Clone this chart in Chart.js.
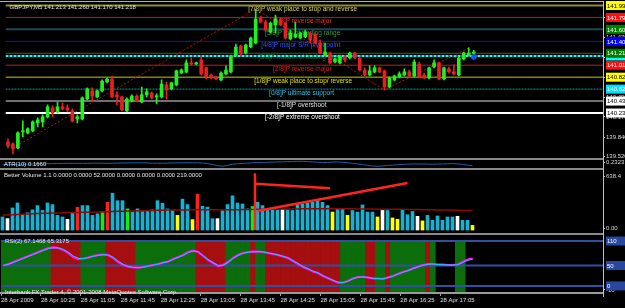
<!DOCTYPE html>
<html>
<head>
<meta charset="utf-8">
<title>GBPJPY,M5</title>
<script src="https://cdn.jsdelivr.net/npm/chart.js@4.4.1/dist/chart.umd.min.js"></script>
<style>
    html, body { margin: 0; padding: 0; background: #000; }
    #wrap { position: relative; width: 625px; height: 308px; overflow: hidden; background: #000; }
    #wrap canvas { position: absolute; left: 0; }
    .rule { position: absolute; left: 0; width: 603px; background: #8a8a8a; }
</style>
</head>
<body>
<div id="wrap">
    <canvas id="priceChart" width="625" height="168" style="top:-5px"></canvas>
    <canvas id="atrChart" width="625" height="19" style="top:154px"></canvas>
    <canvas id="volumeChart" width="625" height="74" style="top:164px"></canvas>
    <canvas id="rsiChart" width="625" height="79" style="top:229px"></canvas>
    <div class="rule" style="top:1px;height:1px;background:#b0b0b0"></div>
    <div class="rule" style="top:158px;height:2px"></div>
    <div class="rule" style="top:168px;height:2px"></div>
    <div class="rule" style="top:233px;height:2px"></div>
    <div style="position:absolute;left:603px;top:1px;width:1px;height:296px;background:#c0c0c0"></div>
</div>
<script>
// GBPJPY M5, 28 Apr 2009 - one value per 5 minute bar
const opens = [
    139.762, 139.729, 139.664, 139.925, 139.909, 139.941, 140.072, 140.089, 140.170, 140.317,
    140.252, 140.334, 140.317, 140.268, 140.138, 140.138, 140.464, 140.595, 140.497, 140.595,
    140.742, 140.791, 140.530, 140.497, 140.268, 140.432, 140.513, 140.415, 140.530, 140.562,
    140.497, 140.497, 140.693, 140.628, 140.693, 140.889, 140.906, 141.053, 141.036, 141.102,
    140.971, 140.856, 140.824, 140.775, 140.873, 140.906, 141.183, 141.330, 141.216, 141.314,
    141.379, 141.788, 141.723, 141.559, 141.673, 141.755, 141.706, 141.445, 141.477, 141.461,
    141.477, 141.543, 141.526, 141.379, 141.183, 141.216, 141.069, 141.053, 141.151, 141.134,
    141.216, 141.134, 140.938, 140.856, 140.906, 140.971, 140.922, 140.660, 140.775, 140.824,
    140.856, 140.906, 140.840, 141.036, 140.856, 140.807, 140.987, 141.053, 140.791, 140.955,
    140.906, 140.856, 141.118, 141.183, 141.213
];
const highs = [
    139.811, 139.745, 139.925, 140.105, 139.990, 140.105, 140.154, 140.203, 140.366, 140.350,
    140.415, 140.399, 140.366, 140.301, 140.203, 140.497, 140.644, 140.644, 140.611, 140.775,
    140.807, 140.840, 140.579, 140.513, 140.481, 140.530, 140.530, 140.660, 140.628, 140.579,
    140.546, 140.775, 140.742, 140.742, 140.938, 140.955, 141.102, 141.134, 141.069, 141.167,
    140.987, 140.873, 140.840, 140.906, 141.004, 141.183, 141.363, 141.347, 141.363, 141.477,
    141.935, 141.821, 141.755, 141.723, 141.837, 141.788, 141.723, 141.592, 141.723, 141.559,
    141.592, 141.559, 141.543, 141.428, 141.379, 141.232, 141.134, 141.183, 141.167, 141.232,
    141.232, 141.151, 140.971, 141.004, 141.004, 140.987, 140.938, 140.824, 140.856, 140.906,
    140.955, 140.938, 141.102, 141.069, 140.889, 140.987, 141.102, 141.069, 140.987, 140.987,
    141.020, 141.151, 141.232, 141.298, 141.260
];
const lows = [
    139.664, 139.566, 139.647, 139.843, 139.892, 139.925, 140.007, 140.007, 140.154, 140.170,
    140.236, 140.285, 140.252, 140.089, 140.072, 140.121, 140.448, 140.432, 140.481, 140.579,
    140.726, 140.481, 140.366, 140.268, 140.252, 140.415, 140.415, 140.399, 140.497, 140.464,
    140.383, 140.481, 140.464, 140.611, 140.677, 140.873, 140.889, 141.020, 141.020, 140.856,
    140.791, 140.791, 140.775, 140.758, 140.856, 140.889, 141.167, 141.167, 141.200, 141.298,
    141.363, 141.706, 141.559, 141.543, 141.543, 141.657, 141.445, 141.428, 141.461, 141.445,
    141.461, 141.379, 141.363, 141.200, 141.167, 141.036, 141.053, 141.036, 141.069, 141.118,
    141.118, 140.922, 140.840, 140.840, 140.889, 140.889, 140.611, 140.644, 140.758, 140.807,
    140.840, 140.824, 140.824, 140.807, 140.791, 140.791, 140.971, 140.775, 140.775, 140.889,
    140.856, 140.840, 141.102, 141.167, 141.170
];
const closes = [
    139.696, 139.647, 139.909, 139.941, 139.974, 140.089, 140.121, 140.170, 140.334, 140.236,
    140.334, 140.301, 140.285, 140.105, 140.170, 140.481, 140.628, 140.513, 140.595, 140.758,
    140.791, 140.497, 140.497, 140.285, 140.464, 140.513, 140.432, 140.530, 140.579, 140.481,
    140.513, 140.709, 140.611, 140.726, 140.922, 140.938, 141.053, 141.036, 141.053, 140.873,
    140.824, 140.807, 140.791, 140.889, 140.938, 141.167, 141.314, 141.200, 141.347, 141.461,
    141.772, 141.723, 141.592, 141.706, 141.772, 141.673, 141.461, 141.543, 141.526, 141.543,
    141.559, 141.428, 141.379, 141.216, 141.232, 141.053, 141.118, 141.151, 141.102, 141.216,
    141.134, 140.938, 140.856, 140.922, 140.971, 140.906, 140.660, 140.807, 140.840, 140.873,
    140.906, 140.840, 141.069, 140.824, 140.807, 140.971, 141.053, 140.791, 140.971, 140.906,
    140.873, 141.134, 141.216, 141.216, 141.218
];

const timeLabels = ['28 Apr 2009', '28 Apr 10:25', '28 Apr 11:05', '28 Apr 11:45', '28 Apr 12:25', '28 Apr 13:05',
    '28 Apr 13:45', '28 Apr 14:25', '28 Apr 15:05', '28 Apr 15:45', '28 Apr 16:25', '28 Apr 17:05'];
const timeTickBars = [0, 8, 16, 24, 32, 40, 48, 56, 64, 72, 80, 88];
const priceTicks = [141.800, 141.470, 141.140, 140.810, 140.490, 140.170, 139.840, 139.520];

// Murrey math levels
const murreyLevels = [141.992, 141.797, 141.602, 141.406, 141.211, 141.016, 140.820, 140.625, 140.430, 140.234];
const murreyNames = [
    '[7/8]P weak place to stop and reverse', '[6/8]P reverse major', '[5/8]P top of trading range',
    '[4/8]P major S/R pivot point', '[3/8]P bottom of trading range', '[2/8]P reverse major',
    '[1/8]P weak place to stop/ reverse', '[0/8]P ultimate support', '[-1/8]P overshoot', '[-2/8]P extreme overshoot'
];
const bidLevel = 141.168;
const zigzagBars = [1, 50, 76, 93];
const zigzagPrices = [139.664, 141.935, 140.611, 141.298];
const markerBar = [94];
const markerPrice = [141.151];

const atrValues = [
    0.176, 0.178, 0.179, 0.181, 0.182, 0.184, 0.186, 0.187, 0.188, 0.189,
    0.190, 0.191, 0.192, 0.193, 0.193, 0.194, 0.193, 0.193, 0.194, 0.195,
    0.194, 0.193, 0.194, 0.196, 0.197, 0.198, 0.199, 0.200, 0.199, 0.197,
    0.195, 0.193, 0.194, 0.196, 0.198, 0.199, 0.200, 0.201, 0.200, 0.199,
    0.196, 0.190, 0.180, 0.165, 0.159, 0.170, 0.182, 0.188, 0.192, 0.196,
    0.200, 0.203, 0.204, 0.205, 0.207, 0.209, 0.211, 0.213, 0.215, 0.216,
    0.217, 0.214, 0.210, 0.206, 0.202, 0.204, 0.207, 0.209, 0.206, 0.200,
    0.193, 0.186, 0.178, 0.170, 0.162, 0.159, 0.163, 0.168, 0.172, 0.176,
    0.180, 0.184, 0.186, 0.186, 0.185, 0.184, 0.183, 0.184, 0.186, 0.188,
    0.190, 0.187, 0.180, 0.172, 0.166
];

const volumes = [
    147, 128, 249, 304, 165, 194, 227, 275, 220, 304,
    286, 165, 147, 121, 191, 257, 275, 275, 165, 183,
    209, 312, 414, 330, 330, 238, 202, 238, 209, 209,
    227, 330, 301, 238, 220, 165, 348, 286, 117, 403,
    268, 257, 128, 128, 220, 286, 385, 304, 293, 238,
    264, 312, 275, 231, 231, 231, 231, 227, 220, 286,
    293, 301, 312, 330, 312, 275, 202, 238, 238, 165,
    220, 202, 282, 202, 202, 147, 220, 220, 136, 121,
    231, 172, 209, 154, 103, 165, 110, 158, 110, 147,
    147, 154, 110, 110, 52
];
// c = normal, w = low volume, r = climax, g = churn, y = low volume churn
const volumeKinds = [
    'c', 'w', 'c', 'c', 'c', 'c', 'c', 'c', 'c', 'c',
    'c', 'c', 'c', 'w', 'c', 'r', 'c', 'c', 'c', 'c',
    'g', 'r', 'c', 'c', 'c', 'g', 'c', 'c', 'c', 'c',
    'c', 'c', 'c', 'c', 'c', 'y', 'c', 'c', 'y', 'r',
    'c', 'c', 'c', 'w', 'c', 'c', 'c', 'c', 'c', 'c',
    'g', 'c', 'c', 'c', 'c', 'c', 'w', 'c', 'c', 'c',
    'c', 'c', 'c', 'c', 'c', 'c', 'y', 'c', 'c', 'y',
    'c', 'c', 'c', 'c', 'c', 'y', 'w', 'c', 'y', 'y',
    'c', 'c', 'c', 'w', 'y', 'c', 'c', 'c', 'c', 'c',
    'c', 'w', 'c', 'c', 'y'
];
const volumeMA = [
    168, 170, 172, 175, 178, 180, 183, 186, 188, 190,
    192, 193, 194, 196, 197, 198, 199, 200, 201, 202,
    203, 205, 208, 210, 212, 214, 215, 216, 218, 220,
    221, 222, 223, 224, 224, 225, 226, 226, 227, 228,
    228, 228, 227, 227, 226, 227, 228, 229, 230, 231,
    232, 233, 234, 234, 235, 235, 236, 236, 237, 237,
    238, 238, 239, 239, 240, 240, 240, 239, 239, 238,
    238, 237, 237, 236, 236, 235, 235, 234, 234, 233,
    233, 232, 231, 230, 229, 228, 227, 226, 225, 224,
    223, 222, 221, 220, 219
];
// hand drawn trend lines on the volume window: [bar, volume] pairs
const volumeTrendLines = [
    [[50.5, 520], [65.5, 470]],
    [[51, 215], [81, 530]],
    [[50.5, 0], [50.5, 638]]
];

const rsiMain = [
    50.0, 53.7, 58.6, 63.5, 68.4, 73.3, 78.2, 83.1, 88.0, 92.9,
    94.6, 92.9, 88.0, 80.6, 70.8, 65.9, 67.2, 69.6, 73.3, 75.7,
    77.0, 75.7, 68.4, 58.6, 51.2, 47.1, 45.1, 44.6, 46.3, 48.8,
    51.2, 53.7, 57.4, 59.8, 65.9, 70.8, 75.7, 83.1, 86.3, 83.1,
    73.3, 63.5, 56.1, 48.8, 51.2, 58.6, 68.4, 75.7, 80.6, 83.1,
    83.8, 84.3, 83.1, 80.6, 78.2, 75.7, 72.1, 68.4, 61.0, 53.7,
    46.3, 41.4, 35.3, 31.6, 24.3, 18.6, 13.2, 7.8, 7.8, 12.0,
    18.1, 21.8, 21.8, 20.6, 18.1, 18.1, 16.9, 20.6, 24.3, 29.2,
    34.1, 37.7, 42.6, 47.1, 51.2, 53.7, 53.7, 52.5, 52.0, 51.2,
    51.2, 52.5, 58.6, 64.7, 67.1
];
const rsiSignal = [
    50.5, 53.0, 57.5, 62.5, 67.5, 72.5, 77.5, 82.5, 87.0, 91.5,
    93.5, 93.0, 89.0, 82.0, 73.0, 67.5, 67.0, 69.0, 72.5, 75.0,
    76.5, 75.5, 69.5, 60.0, 52.5, 48.0, 45.5, 45.0, 46.0, 48.5,
    51.0, 53.5, 57.0, 59.5, 65.0, 70.0, 75.0, 82.0, 85.5, 83.5,
    74.5, 64.5, 57.0, 50.0, 50.5, 57.5, 67.5, 75.0, 80.0, 82.5,
    83.5, 84.0, 83.5, 81.0, 78.5, 76.0, 72.5, 69.0, 62.0, 55.0,
    47.5, 42.0, 36.0, 32.0, 25.0, 19.5, 14.0, 9.0, 8.0, 11.5,
    17.5, 21.5, 22.0, 21.0, 18.5, 18.0, 17.5, 20.0, 23.5, 28.5,
    33.5, 37.0, 42.0, 46.5, 50.5, 53.0, 53.5, 52.5, 52.0, 51.5,
    51.0, 52.0, 57.5, 63.0, 65.3
];
// g = rising, r = falling, . = no signal
const rsiBands = ('gggggggggg' + 'rrrrrr' + 'ggggg' + 'rrrrrr' + 'gggggggggggg' + 'rrrrrr' + 'ggggg' + 'r' + 'gg' +
    'rrrrrrrrrrrrrrr' + 'ggggg' + 'rr' + 'gg' + 'r' + 'ggggggg' + 'r' + 'g' + '....' + 'gg' + '..').split('');
const rsiLevels = [110, 50, 0];

// ---- styles ----
const FONT = "'Liberation Sans', Arial, sans-serif";
Chart.defaults.font.family = FONT;
Chart.defaults.font.size = 6;
Chart.defaults.color = '#d8d8d8';

const X_MIN = -0.5, X_MAX = 120.1;
const BULL = '#22ee22', BEAR = '#e62020';
const volumeColors = { c: '#1ab0d0', w: '#ffffff', r: '#ff2020', g: '#10ee10', y: '#ffff00' };
const bandColors = { g: '#0b6e0b', r: '#a50f0f' };
const murreyStyle = [
    { line: '#8c8c30', width: 2, text: '#d8d060', box: '#ffff00', boxText: '#000', at: 48.5 },
    { line: '#b02020', width: 1, text: '#e03030', box: '#ff1010', boxText: '#fff', at: 53.5 },
    { line: '#1a4a58', width: 2, text: '#2f9a3a', box: '#008000', boxText: '#fff', at: 51.9 },
    { line: '#1818b0', width: 1, text: '#3050ff', box: '#0000ff', boxText: '#fff', at: 51.1 },
    { line: '#2a6a2a', width: 1, text: '#1e6e1e', box: '#008000', boxText: '#fff', at: 50.5 },
    { line: '#b82020', width: 1, text: '#d02020', box: '#ff1010', boxText: '#fff', at: 53.5 },
    { line: '#c8c800', width: 1, text: '#e0e000', box: '#ffff00', boxText: '#000', at: 49.7 },
    { line: '#10a0a0', width: 1, text: '#30c0e0', box: '#00e0ff', boxText: '#fff', at: 52.7, dash: [2, 1] },
    { line: '#707070', width: 2, text: '#e0e0e0', box: '#ffffff', boxText: '#000', at: 54.3 },
    { line: '#ffffff', width: 2, text: '#ffffff', box: '#ffffff', boxText: '#000', at: 51.9 }
];

const hiddenX = { type: 'linear', min: X_MIN, max: X_MAX, offset: false, display: false, grid: { offset: false } };

function rightAxis(min, max, tickValues, labelFor) {
    return {
        position: 'right',
        min: min,
        max: max,
        afterFit: function(scale) { scale.width = 22; },
        afterBuildTicks: function(scale) { scale.ticks = tickValues.map(v => ({ value: v })); },
        ticks: { color: '#d8d8d8', padding: 1, callback: labelFor },
        grid: { drawOnChartArea: false, color: '#c0c0c0', tickLength: 2 },
        border: { display: false }
    };
}

function hLine(value, color, width, dash) {
    return {
        type: 'line',
        data: [{ x: X_MIN, y: value }, { x: X_MAX, y: value }],
        borderColor: color,
        borderWidth: width,
        borderDash: dash || [],
        pointRadius: 0,
        order: 20
    };
}

// text captions and price boxes drawn with the chart's own scales
function overlayPlugin(captions, boxes, underTexts) {
    return {
        id: 'overlay',
        beforeDatasetsDraw: function(chart) {
            if (!underTexts) return;
            const ctx = chart.ctx;
            ctx.save();
            ctx.font = '6.5px ' + FONT;
            ctx.textBaseline = 'middle';
            underTexts.forEach(t => {
                ctx.fillStyle = t.color;
                ctx.fillText(t.text, chart.scales.x.getPixelForValue(t.at), chart.scales.y.getPixelForValue(t.value) + 4);
            });
            ctx.restore();
        },
        afterDraw: function(chart) {
            const ctx = chart.ctx;
            const area = chart.chartArea;
            ctx.save();
            ctx.font = '6px ' + FONT;
            ctx.textBaseline = 'middle';
            captions.forEach(c => {
                ctx.fillStyle = c.color || '#e8e8e8';
                ctx.fillText(c.text, area.left + 4, area.top + c.dy);
            });
            boxes.forEach(b => {
                const y = chart.scales.y.getPixelForValue(b.value);
                ctx.fillStyle = b.bg;
                ctx.fillRect(area.right + 3, y - 4.5, 24, 9);
                ctx.fillStyle = b.fg;
                ctx.fillText(b.text, area.right + 4, y + 0.5);
            });
            ctx.restore();
        }
    };
}

const baseOptions = (padTop, padBottom) => ({
    responsive: false,
    animation: false,
    events: [],
    layout: { padding: { top: padTop, bottom: padBottom, left: 0, right: 0 } },
    plugins: { legend: { display: false }, tooltip: { enabled: false } }
});

// ---- price window ----
const candleColor = i => (closes[i] >= opens[i] ? BULL : BEAR);
const murreyDatasets = murreyLevels.map((v, k) => hLine(v, murreyStyle[k].line, murreyStyle[k].width, murreyStyle[k].dash));

new Chart(document.getElementById('priceChart'), {
    type: 'bar',
    data: {
        datasets: murreyDatasets.concat([
            hLine(bidLevel, '#00ffff', 2, [3, 1]),
            {
                type: 'line',
                data: zigzagBars.map((b, k) => ({ x: b, y: zigzagPrices[k] })),
                borderColor: '#c01010', borderWidth: 1, borderDash: [2, 2], pointRadius: 0, order: 8
            },
            {
                data: opens.map((o, i) => ({ x: i, y: [lows[i], highs[i]] })),
                backgroundColor: ctx => candleColor(ctx.dataIndex),
                barThickness: 1, grouped: false, order: 3
            },
            {
                data: opens.map((o, i) => ({ x: i, y: [o, closes[i]] })),
                backgroundColor: ctx => candleColor(ctx.dataIndex),
                barThickness: 3, minBarLength: 1, grouped: false, order: 2
            },
            {
                type: 'line',
                data: markerBar.map((b, k) => ({ x: b, y: markerPrice[k] })),
                showLine: false, pointStyle: 'star', pointRadius: 3,
                borderColor: '#2050ff', borderWidth: 1.5, order: 0
            }
        ])
    },
    options: Object.assign(baseOptions(8, 6), {
        scales: {
            x: hiddenX,
            y: rightAxis(139.515, 142.033, priceTicks, v => v.toFixed(3))
        }
    }),
    plugins: [overlayPlugin(
        [{ text: 'GBPJPY,M5 141.213 141.260 141.170 141.218', dy: 4, color: '#e0e0e0' }],
        murreyLevels.map((v, k) => ({ value: v, text: v.toFixed(3), bg: murreyStyle[k].box, fg: murreyStyle[k].boxText }))
            .concat([{ value: bidLevel, text: bidLevel.toFixed(3), bg: '#00ffff', fg: '#000' }])
            .sort((a, b) => a.value - b.value),
        murreyLevels.map((v, k) => ({ value: v, text: murreyNames[k], color: murreyStyle[k].text, at: murreyStyle[k].at }))
    )]
});

// ---- ATR window ----
new Chart(document.getElementById('atrChart'), {
    type: 'line',
    data: {
        datasets: [{
            data: atrValues.map((v, i) => ({ x: i, y: v })),
            borderColor: '#1f5f9f', borderWidth: 1, pointRadius: 0
        }]
    },
    options: Object.assign(baseOptions(6, 6), {
        scales: {
            x: hiddenX,
            y: rightAxis(0.15, 0.2323, [0.20], () => '0.2323')
        }
    }),
    plugins: [overlayPlugin([{ text: 'ATR(10) 0.1660', dy: 4 }], [])]
});

// ---- Better Volume window ----
new Chart(document.getElementById('volumeChart'), {
    type: 'bar',
    data: {
        datasets: [
            {
                data: volumes.map((v, i) => ({ x: i, y: v })),
                backgroundColor: ctx => volumeColors[volumeKinds[ctx.dataIndex]],
                barThickness: 3, grouped: false, order: 5
            },
            {
                type: 'line',
                data: volumeMA.map((v, i) => ({ x: i, y: v })),
                borderColor: '#8b0a0a', borderWidth: 1.5, pointRadius: 0, order: 2
            }
        ].concat(volumeTrendLines.map(seg => ({
            type: 'line',
            data: seg.map(p => ({ x: p[0], y: p[1] })),
            borderColor: '#ff2424', borderWidth: 2.5, pointRadius: 0, order: 1
        })))
    },
    options: Object.assign(baseOptions(6, 6), {
        scales: {
            x: hiddenX,
            y: rightAxis(-22, 675, [600, 20], (v, i) => ['638.4', '0.00'][i])
        }
    }),
    plugins: [overlayPlugin([{ text: 'Better Volume 1.1 0.0000 0.0000 52.0000 0.0000 0.0000 0.0000 219.0000', dy: 5 }], [])]
});

// ---- RSI window with time axis ----
const BAND_LOW = -14, BAND_HIGH = 111;
new Chart(document.getElementById('rsiChart'), {
    type: 'bar',
    data: {
        datasets: [
            {
                data: rsiBands.flatMap((b, i) => (b === '.' ? [] : [{ x: i, y: [BAND_LOW, BAND_HIGH], k: b }])),
                backgroundColor: ctx => bandColors[ctx.raw ? ctx.raw.k : 'g'],
                barThickness: 5, grouped: false, order: 30
            }
        ].concat(rsiLevels.map(v => Object.assign(hLine(v, '#3050a8', 2), { order: 10 })), [
            {
                type: 'line',
                data: rsiMain.map((v, i) => ({ x: i, y: v })),
                borderColor: '#ff10ff', borderWidth: 2.2, pointRadius: 0, order: 2
            },
            {
                type: 'line',
                data: rsiSignal.map((v, i) => ({ x: i, y: v })),
                borderColor: '#20c0ff', borderWidth: 1, pointRadius: 0, order: 1
            }
        ])
    },
    options: Object.assign(baseOptions(6, 0), {
        scales: {
            x: {
                type: 'linear', min: X_MIN, max: X_MAX, offset: false,
                afterFit: function(scale) { scale.height = 15; },
                afterBuildTicks: function(scale) { scale.ticks = timeTickBars.map(b => ({ value: b - 0.5 })); },
                ticks: {
                    color: '#e0e0e0', align: 'start', maxRotation: 0, autoSkip: false, padding: 1,
                    callback: (v, i) => timeLabels[i]
                },
                grid: { drawOnChartArea: false, offset: false, color: '#a0a0a0', tickLength: 3 },
                border: { display: true, color: '#9a9a9a', width: 2 }
            },
            y: rightAxis(-17.4, 124.8, [-10], () => '-10')
        }
    }),
    plugins: [overlayPlugin(
        [
            { text: 'RSI(2) 67.1468 65.3175', dy: 6 },
            { text: 'Interbank FX Trader 4, \u00a9 2001-2008 MetaQuotes Software Corp.', dy: 57 }
        ],
        rsiLevels.map(v => ({ value: v, text: String(v), bg: '#2848a0', fg: '#ffffff' }))
    )]
});
</script>
</body>
</html>
